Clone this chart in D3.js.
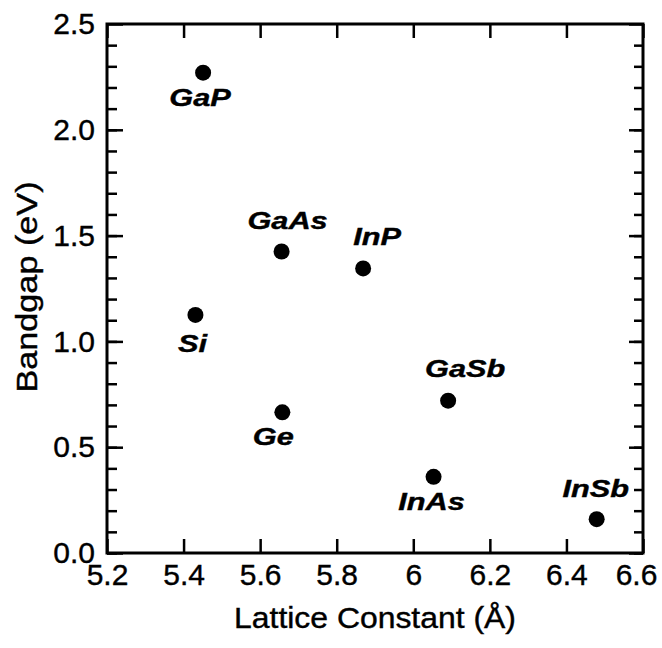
<!DOCTYPE html>
<html>
<head>
<meta charset="utf-8">
<script src="https://cdn.jsdelivr.net/npm/d3@7"></script>
<style>
  body { margin: 0; background: #fff; }
  text { font-family: Arial, "Liberation Sans", Helvetica, sans-serif; fill: #000; stroke: #000; stroke-width: 0.4px; }
</style>
</head>
<body>
<script>
// data
var materials = ["GaP", "GaAs", "InP", "Si", "GaSb", "Ge", "InAs", "InSb"];
var latticeConst = [5.451, 5.656, 5.869, 5.431, 6.091, 5.658, 6.053, 6.479];
var bandgap = [2.27, 1.425, 1.345, 1.125, 0.72, 0.665, 0.36, 0.16];

var xTicks = [5.2, 5.4, 5.6, 5.8, 6.0, 6.2, 6.4, 6.6];
var yTicks = [0, 0.5, 1.0, 1.5, 2.0, 2.5];
var yMinor = d3.range(0, 25).map(function(i){ return i / 10; });

// where each name sits relative to its dot (px)
var labelOffset = [[-3, 33], [6, -22], [14, -23], [-3, 37], [17, -24], [-9, 33], [-2, 33], [-1, -22]];

var width = 662,
	height = 648,
	mLeft = 107, mRight = 643, mTop = 24, mBottom = 553;

var svg = d3.select("body").append("svg")
	.attr("width", width)
	.attr("height", height);

var x = d3.scaleLinear().domain([5.2, 6.6]).range([mLeft, mRight]);
var y = d3.scaleLinear().domain([0, 2.5]).range([mBottom, mTop]);

function stretch(sel, k){
	sel.each(function(){
		var w = this.getComputedTextLength();
		d3.select(this).attr("textLength", w * k).attr("lengthAdjust", "spacingAndGlyphs");
	});
}

function fmtX(d){ return d === 6 ? "6" : d3.format(".1f")(d); }

// minor y ticks, both sides
svg.append("g")
	.attr("transform", "translate(" + mLeft + ",0)")
	.call(d3.axisLeft(y).tickValues(yMinor).tickSize(-10).tickFormat(""))
	.call(function(g){ g.select(".domain").remove(); });
svg.append("g")
	.attr("transform", "translate(" + mRight + ",0)")
	.call(d3.axisRight(y).tickValues(yMinor).tickSize(-9).tickFormat(""))
	.call(function(g){ g.select(".domain").remove(); });

// major y ticks
var yAxis = svg.append("g")
	.attr("transform", "translate(" + mLeft + ",0)")
	.call(d3.axisLeft(y).tickValues(yTicks).tickSize(-16).tickPadding(12).tickFormat(d3.format(".1f")));
yAxis.select(".domain").remove();
svg.append("g")
	.attr("transform", "translate(" + mRight + ",0)")
	.call(d3.axisRight(y).tickValues(yTicks).tickSize(-14).tickFormat(""))
	.call(function(g){ g.select(".domain").remove(); });

// x ticks bottom and top
var xAxis = svg.append("g")
	.attr("transform", "translate(0," + mBottom + ")")
	.call(d3.axisBottom(x).tickValues(xTicks).tickSize(-14).tickPadding(11).tickFormat(fmtX));
xAxis.select(".domain").remove();
// last label sits a bit inside the edge, as in the original
xAxis.selectAll(".tick text").filter(function(d){ return d === 6.6; }).attr("dx", -7);
svg.append("g")
	.attr("transform", "translate(0," + mTop + ")")
	.call(d3.axisTop(x).tickValues(xTicks).tickSize(-14).tickFormat(""))
	.call(function(g){ g.select(".domain").remove(); });

svg.selectAll(".tick line").attr("stroke", "#000").attr("stroke-width", 2.5);
svg.selectAll(".tick text")
	.style("font-size", "30px")
	.attr("fill", "#000");

// frame
svg.append("rect")
	.attr("x", mLeft).attr("y", mTop)
	.attr("width", mRight - mLeft).attr("height", mBottom - mTop)
	.attr("fill", "none")
	.attr("stroke", "#000")
	.attr("stroke-width", 3);

// axis titles
svg.append("text")
	.attr("x", (mLeft + mRight) / 2)
	.attr("y", 628)
	.attr("text-anchor", "middle")
	.style("font-size", "29px")
	.text("Lattice Constant (\u00C5)")
	.call(stretch, 1.1);

svg.append("text")
	.attr("transform", "translate(37,287) rotate(-90)")
	.attr("text-anchor", "middle")
	.style("font-size", "29px")
	.text("Bandgap (eV)")
	.call(stretch, 1.18);

// points
var pts = svg.selectAll(".pt")
	.data(materials)
	.enter()
	.append("g")
	.attr("class", "pt");

pts.append("circle")
	.attr("cx", function(d, i){ return x(latticeConst[i]); })
	.attr("cy", function(d, i){ return y(bandgap[i]); })
	.attr("r", 8)
	.attr("fill", "#000");

pts.append("text")
	.attr("x", function(d, i){ return x(latticeConst[i]) + labelOffset[i][0]; })
	.attr("y", function(d, i){ return y(bandgap[i]) + labelOffset[i][1]; })
	.attr("text-anchor", "middle")
	.style("font-size", "24px")
	.style("font-weight", "bold")
	.style("font-style", "italic")
	.text(function(d){ return d; })
	.call(stretch, 1.28);
</script>
</body>
</html>
